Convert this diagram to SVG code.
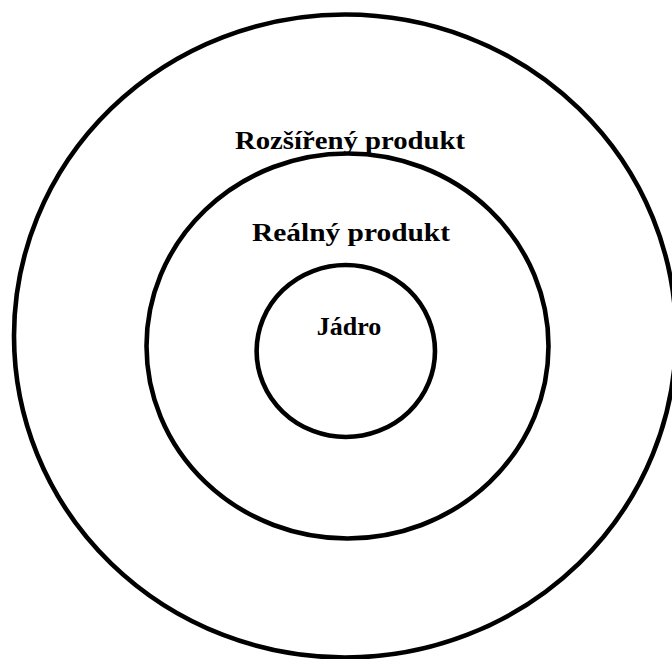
<svg xmlns="http://www.w3.org/2000/svg" width="672" height="659" viewBox="0 0 672 659">
<style>
.ring{fill:none;stroke:#000;stroke-width:4.6}
.lbl{font-family:"Liberation Serif","Times New Roman",serif;font-weight:bold;font-size:26px;fill:#000;text-anchor:middle}
</style>
<rect width="672" height="659" fill="#fff"/>
<g id="outer">
<ellipse class="ring" cx="345" cy="336" rx="331" ry="321.5"/>
<text class="lbl" x="350" y="149" textLength="230" lengthAdjust="spacingAndGlyphs">Rozšířený produkt</text>
</g>
<g id="middle">
<ellipse class="ring" cx="347.5" cy="346" rx="201" ry="192.5"/>
<text class="lbl" x="351" y="241" textLength="198" lengthAdjust="spacingAndGlyphs">Reálný produkt</text>
</g>
<g id="inner">
<ellipse class="ring" cx="345.8" cy="351" rx="89.2" ry="86"/>
<text class="lbl" x="349" y="335">Jádro</text>
</g>
<g id="connectors"></g>
</svg>
